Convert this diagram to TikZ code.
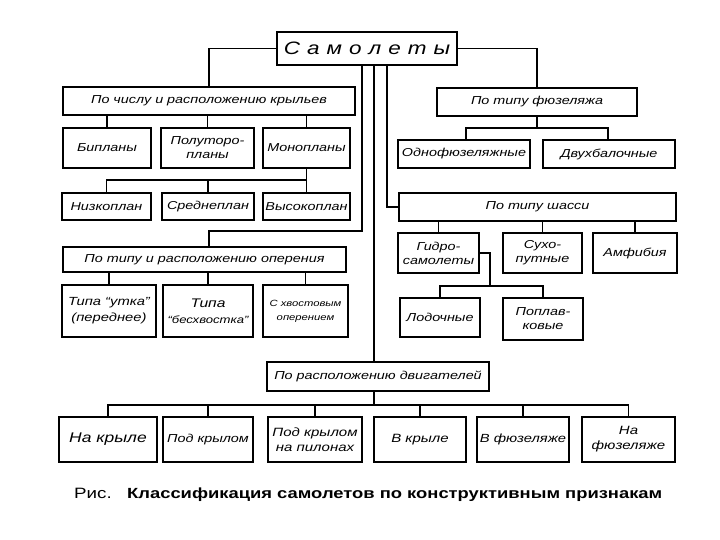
\documentclass[tikz,border=0pt]{standalone}
\usepackage{fontspec}
\setmainfont{Liberation Sans}[FakeStretch=1.25]
\newcommand\bxf{\fontsize{11.5}{14}\selectfont\itshape}
\newcommand\lsp{\hspace{7pt}}
\begin{document}
\begin{tikzpicture}[x=1pt,y=-1pt,
  box/.style={draw, line width=1.4pt, inner sep=1pt, align=center, font=\bxf},
  conn/.style={line width=1.4pt}]
\useasboundingbox[fill=white] (0,0) rectangle (720,540);
% title
\node[box, minimum width=180, minimum height=33, font=\fontsize{18}{20}\selectfont\itshape] (title) at (367,48.5)
  {С\lsp а\lsp м\lsp о\lsp л\lsp е\lsp т\lsp ы};
% wings
\node[box, minimum width=292, minimum height=28] (wings) at (209,101) {По числу и расположению крыльев};
\node[box, minimum width=88, minimum height=40] (bipl) at (107,148) {Бипланы};
\node[box, minimum width=93, minimum height=40] (polut) at (207.5,148) {Полуторо-\\планы};
\node[box, minimum width=87, minimum height=40] (monopl) at (306.5,148) {Монопланы};
\node[box, minimum width=89, minimum height=27] (nizko) at (106.5,206.5) {Низкоплан};
\node[box, minimum width=92, minimum height=27] (sredne) at (208,206.5) {Среднеплан};
\node[box, minimum width=87, minimum height=27] (vysoko) at (306.5,206.5) {Высокоплан};
% tail
\node[box, minimum width=283, minimum height=25] (oper) at (204.5,259.5) {По типу и расположению оперения};
\node[box, minimum width=94, minimum height=52, font=\fontsize{11.8}{16}\selectfont\itshape] (utka) at (109,311) {Типа “утка”\\(переднее)};
\node[box, minimum width=90, minimum height=52, font=\fontsize{10.5}{16}\selectfont\itshape] (besh) at (208,311) {{\fontsize{12.5}{16}\selectfont Типа}\\“бесхвостка”};
\node[box, minimum width=85, minimum height=52, font=\fontsize{9}{14}\selectfont\itshape] (hvost) at (305.5,311) {С хвостовым\\оперением};
% fuselage
\node[box, minimum width=200, minimum height=28] (fuzel) at (537,102) {По типу фюзеляжа};
\node[box, minimum width=132, minimum height=28] (odnof) at (464,154) {Однофюзеляжные};
\node[box, minimum width=132, minimum height=28] (dvuhb) at (609,154) {Двухбалочные};
% landing gear
\node[box, minimum width=277, minimum height=28] (shassi) at (537.5,207) {По типу шасси};
\node[box, minimum width=81, minimum height=40] (gidro) at (438.5,253) {Гидро-\\самолеты};
\node[box, minimum width=79, minimum height=40] (suho) at (542.5,253) {Сухо-\\путные};
\node[box, minimum width=84, minimum height=40] (amfib) at (635,253) {Амфибия};
\node[box, minimum width=80, minimum height=39] (lodoch) at (440,317.5) {Лодочные};
\node[box, minimum width=80, minimum height=42] (poplav) at (543,319) {Поплав-\\ковые};
% engines
\node[box, minimum width=222, minimum height=29] (dvig) at (378,376.5) {По расположению двигателей};
\node[box, minimum width=98, minimum height=45, font=\fontsize{14}{16}\selectfont\itshape] (nakr) at (108,439.5) {На крыле};
\node[box, minimum width=90, minimum height=45] (podkr) at (208,439.5) {Под крылом};
\node[box, minimum width=94, minimum height=45, font=\fontsize{12}{15}\selectfont\itshape] (pilon) at (315,439.5) {Под крылом\\на пилонах};
\node[box, minimum width=92, minimum height=45, font=\fontsize{12}{15}\selectfont\itshape] (vkr) at (420,439.5) {В крыле};
\node[box, minimum width=92, minimum height=45, font=\fontsize{11.8}{15}\selectfont\itshape] (vfuz) at (523,439.5) {В фюзеляже};
\node[box, minimum width=93, minimum height=45, font=\fontsize{12}{15}\selectfont\itshape] (nafuz) at (628.5,439.5) {На\\фюзеляже};
% caption
\node[anchor=base west, inner sep=0, font=\fontsize{15}{17}\selectfont] (ris) at (74,498) {Рис.};
\node[anchor=base west, inner sep=0, font=\fontsize{14.7}{17}\selectfont\bfseries] (cap) at (127,498) {Классификация самолетов по конструктивным признакам};
% connectors
\draw[conn] (title.west) -| (wings.north);
\draw[conn] (title.east) -| (fuzel.north);
\draw[conn] (fuzel.south) -- (fuzel.south |- 0,128);
\draw[conn] (odnof.north -| 466,0) |- (608,128) -- (dvuhb.north -| 608,0);
\foreach \c in {bipl,polut,monopl} \draw[conn] (wings.south -| \c.north) -- (\c.north);
\draw[conn] (monopl.south) -- (monopl.south |- 0,180) -| (nizko.north);
\draw[conn] (sredne.north) -- (sredne.north |- 0,180);
\draw[conn] (vysoko.north) -- (vysoko.north |- 0,180);
\draw[conn] (title.south -| 362,0) -- (362,231) -| (oper.north -| 209,0);
\foreach \c in {utka,besh,hvost} \draw[conn] (oper.south -| \c.north) -- (\c.north);
\draw[conn] (title.south -| 374,0) -- (dvig.north -| 374,0);
\draw[conn] (title.south -| 387,0) |- (shassi.west);
\foreach \c in {gidro,suho,amfib} \draw[conn] (shassi.south -| \c.north) -- (\c.north);
\draw[conn] (gidro.east) -| (490,286);
\draw[conn] (lodoch.north) |- (poplav.north |- 0,286) -- (poplav.north);
\draw[conn] (dvig.south -| 374,0) -- (374,405);
\draw[conn] (nakr.north) |- (nafuz.north |- 0,405) -- (nafuz.north);
\foreach \c in {podkr,pilon,vkr,vfuz} \draw[conn] (\c.north) -- (\c.north |- 0,405);
\end{tikzpicture}
\end{document}
